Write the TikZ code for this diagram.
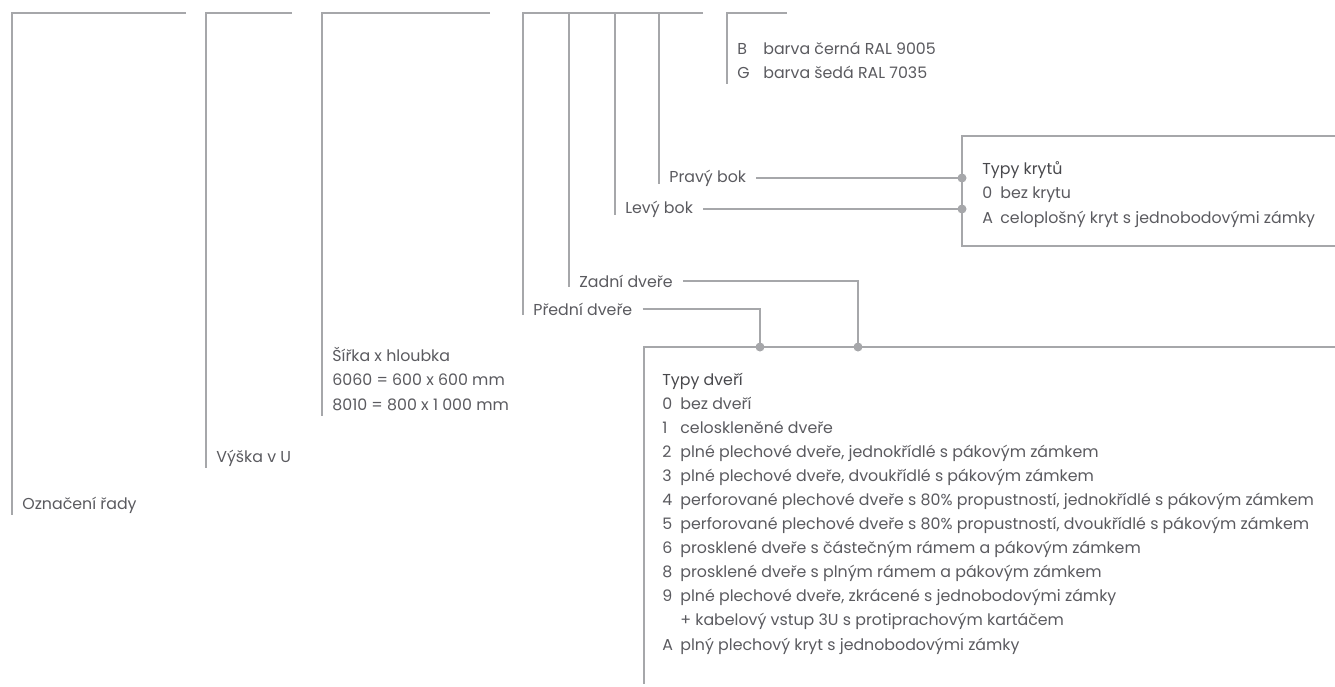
\documentclass[tikz,border=0pt]{standalone}
\usepackage{fontspec}
\setmainfont{Poppins}
\usetikzlibrary{positioning,calc}
\definecolor{rule}{RGB}{166,167,170}
\definecolor{ink}{RGB}{90,90,95}
\definecolor{inkdark}{RGB}{72,72,76}
\newcommand{\itm}[3][3.6mm]{\makebox[#1][l]{#2}#3}

\begin{document}
\begin{tikzpicture}[x=0.2mm,y=-0.2mm,
    bar/.style={rule,line width=0.45mm},
    frame/.style={rule,line width=0.3mm},
    lbl/.style={anchor=west,inner xsep=2mm,inner ysep=0pt,text=ink,
      font=\fontsize{9}{13.7}\selectfont,align=left},
    joint/.style={circle,fill=rule,inner sep=0pt,minimum size=1.8mm}]
  \useasboundingbox (0,0) rectangle (1335,686);
  \coordinate (top) at (0,13);

  % code labels
  \node[lbl] (rada) at (12,505) {Označení řady};
  \node[lbl] (vyska) at (206,458) {Výška v U};
  \node[lbl] (rozmer) at (322,379) {Šířka x hloubka\\6060 = 600 x 600 mm\\8010 = 800 x 1~000 mm};
  \node[lbl] (predni) at (523,309) {Přední dveře};
  \node[lbl] (zadni) at (569,281) {Zadní dveře};
  \node[lbl] (levy) at (615,209) {Levý bok};
  \node[lbl] (pravy) at (659,178) {Pravý bok};
  \node[lbl] (barva) at (727,60) {\itm[5.2mm]{B}{barva černá RAL 9005}\\\itm[5.2mm]{G}{barva šedá RAL 7035}};

  % brackets from the code
  \draw[bar] (186,13) -| ([yshift=-2mm]rada.west);
  \draw[bar] (292,13) -| ([yshift=-2mm]vyska.west);
  \draw[bar] (490,13) -| ([yshift=-1mm]rozmer.south west);
  \draw[bar] (703,13) -| ([yshift=-1.2mm]predni.west);
  \foreach \n in {zadni,levy,pravy}
    \draw[bar] (\n.west |- top) -- ([yshift=-1.2mm]\n.west);
  \draw[bar] (787,13) -| ([yshift=-1mm]barva.south west);

  % cover types
  \coordinate (kbox) at (962,136);
  \draw[frame] (1335,136) -- (kbox) -- (962,246) -- (1335,246);
  \node[lbl,anchor=base west,inner xsep=0pt] (kryty) at (982,223)
    {{\color{inkdark}Typy krytů}\\\itm{0}{bez krytu}\\\itm{A}{celoplošný kryt s jednobodovými zámky}};
  \draw[bar] (pravy.east) -- (pravy.east -| kbox) node[joint] {};
  \draw[bar] (levy.east) -- (levy.east -| kbox) node[joint] {};

  % door types
  \coordinate (dbox) at (644,347);
  \coordinate (d1) at (760,347);
  \coordinate (d2) at (858,347);
  \draw[frame] (1335,347) -- (dbox) -- (644,684);
  \node[lbl,anchor=base west,inner xsep=0pt] (dvere) at (662,650)
    {{\color{inkdark}Typy dveří}\\
     \itm{0}{bez dveří}\\
     \itm{1}{celoskleněné dveře}\\
     \itm{2}{plné plechové dveře, jednokřídlé s pákovým zámkem}\\
     \itm{3}{plné plechové dveře, dvoukřídlé s pákovým zámkem}\\
     \itm{4}{perforované plechové dveře s 80\% propustností, jednokřídlé s pákovým zámkem}\\
     \itm{5}{perforované plechové dveře s 80\% propustností, dvoukřídlé s pákovým zámkem}\\
     \itm{6}{prosklené dveře s částečným rámem a pákovým zámkem}\\
     \itm{8}{prosklené dveře s plným rámem a pákovým zámkem}\\
     \itm{9}{plné plechové dveře, zkrácené s jednobodovými zámky}\\
     \itm{}{+ kabelový vstup 3U s protiprachovým kartáčem}\\
     \itm{A}{plný plechový kryt s jednobodovými zámky}};
  \draw[bar] (predni.east) -| (d1) node[joint] {};
  \draw[bar] (zadni.east) -| (d2) node[joint] {};
\end{tikzpicture}
\end{document}
